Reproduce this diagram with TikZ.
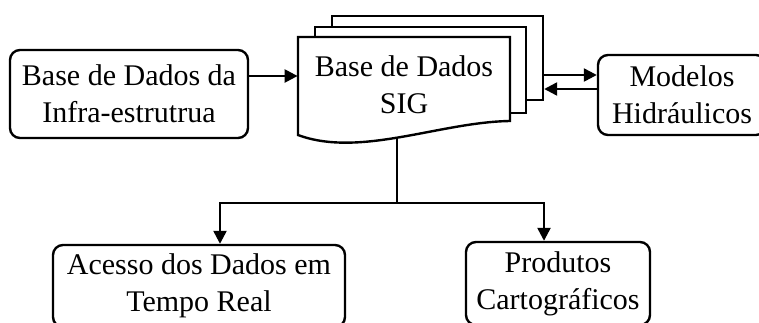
\documentclass[tikz,border=0pt]{standalone}
\usepackage{fontspec}
\setmainfont{Liberation Serif}
\usetikzlibrary{arrows.meta,positioning}

\begin{document}
\begin{tikzpicture}[
    x=0.5pt, y=-0.5pt,
    font=\fontsize{15}{18.5}\selectfont,
    % rounded boxes
    block/.style={
        draw=black,
        line width=1.2pt,
        rounded corners=5pt,
        align=center,
        inner sep=0pt
    },
    % pages behind the document
    page/.style={
        draw=black,
        fill=white,
        line width=1.2pt,
        minimum width=105.5pt,
        inner sep=0pt
    },
    % plain line
    link/.style={
        draw=black,
        line width=1.2pt
    },
    % arrows
    arrow/.style={
        link,
        -{Triangle[length=6.5pt, width=6.5pt]}
    }
]
    \useasboundingbox (0,0) rectangle (759,322);
    \clip (0,0) rectangle (759,322);

    % --- input on the left ---
    \node[block, minimum width=119pt, minimum height=44pt] (infra) at (129,94) {Base de Dados da\\Infra-estrutrua};

    % --- stacked SIG document ---
    \node[page, minimum height=42pt] (page3) at (437.5,58) {};
    \node[page, minimum height=43pt] (page2) at (420.5,70) {};
    \draw[link, fill=white] (298,37) -- (510,37) -- (510,121)
        .. controls (440,122) and (360,158) .. (298,135) -- cycle;
    \node[align=center, inner sep=0pt, minimum width=106pt] (sig) at (404,85) {Base de Dados\\SIG};
    \coordinate (docbot) at (397,139);

    % --- model on the right ---
    \node[block, minimum width=84pt, minimum height=40pt] (model) at (682,95) {Modelos\\Hidráulicos};

    % --- outputs below ---
    \node[block, minimum width=146pt, minimum height=41pt] (acesso) at (199,286) {Acesso dos Dados em\\Tempo Real};
    \node[block, minimum width=92pt, minimum height=41.5pt] (produtos) at (558,283.5) {Produtos\\Cartográficos};
    \coordinate (split) at (397,203);

    % --- connections ---
    \draw[arrow] ([yshift=9pt]infra.east) -- ([yshift=9pt]infra.east -| sig.west);
    \draw[arrow] ([yshift=10pt]model.west -| page3.east) -- ([yshift=10pt]model.west);
    \draw[arrow] ([yshift=3pt]model.west) -- ([yshift=3pt]model.west -| page3.east);
    \draw[link] (docbot) -- (split);
    \draw[arrow] (split) -| ([xshift=10.5pt]acesso.north);
    \draw[arrow] (split) -| ([xshift=-7pt]produtos.north);

\end{tikzpicture}
\end{document}
